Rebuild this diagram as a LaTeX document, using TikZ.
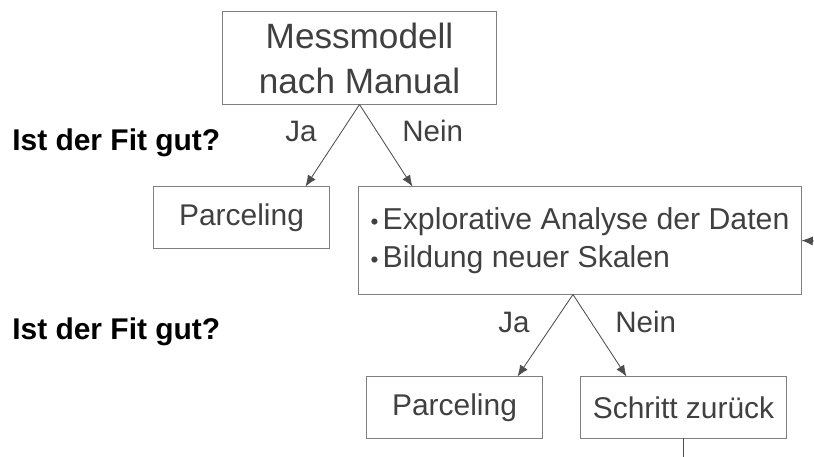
\documentclass[tikz,border=0pt]{standalone}
\usepackage{fontspec}
\setmainfont{Liberation Sans}
\usepackage{xcolor}
\usepackage{tikz}
\usetikzlibrary{arrows.meta,positioning}
\definecolor{boxline}{HTML}{7F7F7F}
\definecolor{txtgray}{HTML}{404040}
\definecolor{ptrgray}{HTML}{4D4D4D}
\newcommand{\punkt}{{\fontsize{16}{16}\selectfont•}\hspace{3pt}}

\begin{document}
\begin{tikzpicture}[x=0.025cm, y=-0.025cm,
  stepbox/.style={draw=boxline, line width=0.7pt, rectangle, inner sep=0pt, text=txtgray, font=\fontsize{21.3}{32}\selectfont},
  smallbox/.style={stepbox, minimum height=1.525cm},
  frage/.style={inner sep=0pt, font=\bfseries\fontsize{21.3}{21.3}\selectfont},
  antwort/.style={inner sep=0pt, text=txtgray, font=\fontsize{21}{21}\selectfont},
  ptr/.style={-{Latex[length=8pt,width=6.5pt]}, ptrgray, line width=0.6pt},
  plain/.style={ptrgray, line width=0.6pt}
]
\useasboundingbox (0,0) rectangle (814,457);
\node[stepbox, minimum width=6.825cm, minimum height=2.3cm, align=center, font=\fontsize{25}{32}\selectfont] (modell) at (359.5,58) {Messmodell\\nach Manual};
\node[smallbox, minimum width=4.375cm] (parcel1) at (241.5,217.5) {Parceling};
\node[stepbox, minimum width=11.05cm, minimum height=2.675cm, align=left, font=\fontsize{21.5}{27}\selectfont] (analyse) at (580,240.5) {\punkt Explorative Analyse der Daten\\\punkt Bildung neuer Skalen};
\node[smallbox, minimum width=4.375cm] (parcel2) at (454.5,407.5) {Parceling};
\node[smallbox, minimum width=5.125cm] (zurueck) at (683.5,407.5) {Schritt zurück};

\node[frage, anchor=base west] (frage1) at (12,151) {Ist der Fit gut?};
\node[frage, anchor=base west] (frage2) at (12,340) {Ist der Fit gut?};
\node[antwort, anchor=base west] (ja1) at (285,142) {Ja};
\node[antwort, anchor=base west] (nein1) at (402,142) {Nein};
\node[antwort, anchor=base west] (ja2) at (498,333) {Ja};
\node[antwort, anchor=base west] (nein2) at (615,333) {Nein};

\coordinate (zurueckpfeil) at (814,241);
\coordinate (weiter) at (683.5,457);

\draw[ptr] (modell.south) -- ([xshift=-0.6cm]parcel1.north east);
\draw[ptr] (modell.south) -- ([xshift=1.35cm]analyse.north west);
\draw[ptr] ([xshift=-0.175cm]analyse.south) -- ([xshift=-0.625cm]parcel2.north east);
\draw[ptr] ([xshift=-0.175cm]analyse.south) -- ([xshift=1.15cm]zurueck.north west);
\draw[ptr] (zurueckpfeil) -- (analyse.east);
\draw[plain] (zurueck.south) -- (weiter);
\end{tikzpicture}
\end{document}
